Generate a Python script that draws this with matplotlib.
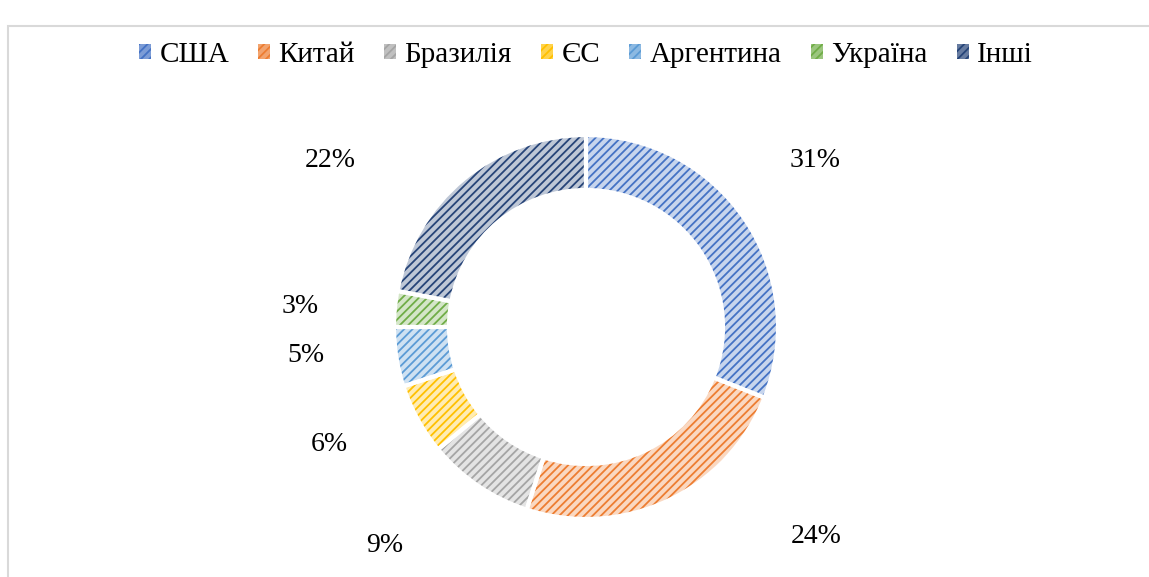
import numpy as np
import matplotlib.pyplot as plt
from matplotlib.patches import Patch, Rectangle
from matplotlib.colors import to_rgb

plt.rcParams['font.family'] = ['Liberation Serif', 'DejaVu Serif']
plt.rcParams['hatch.linewidth'] = 1.3

# data
countries = ['США', 'Китай', 'Бразилія', 'ЄС', 'Аргентина', 'Україна', 'Інші']
shares = [31, 24, 9, 6, 5, 3, 22]
colors = ['#4472C4', '#ED7D31', '#A5A5A5', '#FFC000', '#5B9BD5', '#70AD47', '#264478']

# label nudges (pixels) to mimic the manual placement of labels
nudges = [(-9, 5), (108, 51), (-39, 20), (-4, 21), (4, 17), (1, -7), (-72, -55)]


def tint(c, k=0.3):
    r, g, b = to_rgb(c)
    return (1 - k + k * r, 1 - k + k * g, 1 - k + k * b)


fig = plt.figure(figsize=(11.49, 5.77), dpi=100)
ax = fig.add_axes([0, 0, 1, 1])

cx, cy, R = 586, 250, 192
width = 55

# hatched fill layer
wedges, _ = ax.pie(shares, center=(cx, cy), radius=R, startangle=90,
                   counterclock=False, colors=[tint(c) for c in colors],
                   wedgeprops=dict(width=width, linewidth=0))
for w, c in zip(wedges, colors):
    w.set_hatch('////')
    w.set_edgecolor(c)
    w.set_linewidth(0)

# white separators
ax.pie(shares, center=(cx, cy), radius=R, startangle=90, counterclock=False,
       colors=['none'] * len(shares),
       wedgeprops=dict(width=width, edgecolor='white', linewidth=3))

ax.set_xlim(0, 1149)
ax.set_ylim(0, 577)
ax.set_aspect('equal')
ax.axis('off')

# percentage labels outside the ring
total = sum(shares)
start = 90.0
for v, (dx, dy) in zip(shares, nudges):
    mid = start - v / total * 360 / 2
    start -= v / total * 360
    a = np.deg2rad(mid)
    x = cx + 1.5 * R * np.cos(a) + dx
    y = cy + 1.5 * R * np.sin(a) + dy
    ax.text(x, y, f'{v}%', ha='center', va='center', fontsize=20)

# legend
handles = [Patch(facecolor=tint(c, 0.7), edgecolor=c, hatch='////', linewidth=0)
           for c in colors]
fig.legend(handles, countries, loc='center', bbox_to_anchor=(0.51, 0.905),
           ncol=len(countries), frameon=False, fontsize=21,
           handlelength=0.4, handleheight=0.4, handletextpad=0.3,
           columnspacing=1.0)

# chart frame
fig.patches.append(Rectangle((8 / 1149, -0.1), 1.2, (577 - 26) / 577 + 0.1,
                             transform=fig.transFigure, fill=False,
                             edgecolor='#D9D9D9', linewidth=1.5))

fig.savefig('out.png', dpi=100)
